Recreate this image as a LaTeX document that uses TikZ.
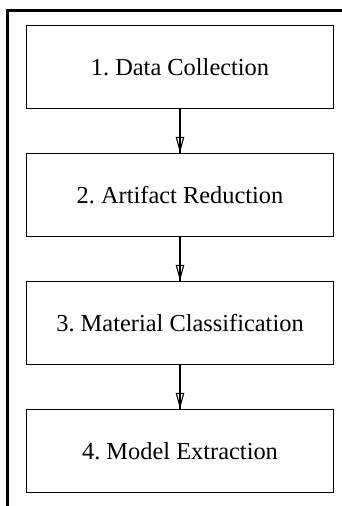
\documentclass[tikz,border=0pt]{standalone}
\usepackage{fontspec}
\setmainfont{Liberation Serif}
\usetikzlibrary{arrows.meta}
\frenchspacing
\begin{document}
\begin{tikzpicture}[x=1pt,y=1pt,
  stepbox/.style={draw,line width=1.4pt,minimum width=307pt,minimum height=83pt,inner sep=0pt,font=\fontsize{24.4}{28}\selectfont},
  flow/.style={line width=1.1pt,-{Triangle[open,length=16pt,width=8.5pt,line width=1.1pt]}},
  frameline/.style={line width=3pt}]
\useasboundingbox (0,0) rectangle (342,-506);
\coordinate (fa) at (7.5,-506);
\coordinate (fb) at (7.5,-10.5);
\coordinate (fc) at (342,-10.5);
\draw[frameline] (fa) -- (fb) -- (fc);
\node[stepbox] (s1) at (180,-67) {1. Data Collection};
\node[stepbox] (s2) at (180,-195) {2. Artifact Reduction};
\node[stepbox] (s3) at (180,-323) {3. Material Classification};
\node[stepbox] (s4) at (180,-451) {4. Model Extraction};
\foreach \a/\b in {s1/s2,s2/s3,s3/s4}{
  \draw[flow] (\a.south) -- (\b.north);
  \draw[line width=1.1pt] (\a.south) -- (\b.north);
}
\end{tikzpicture}
\end{document}
